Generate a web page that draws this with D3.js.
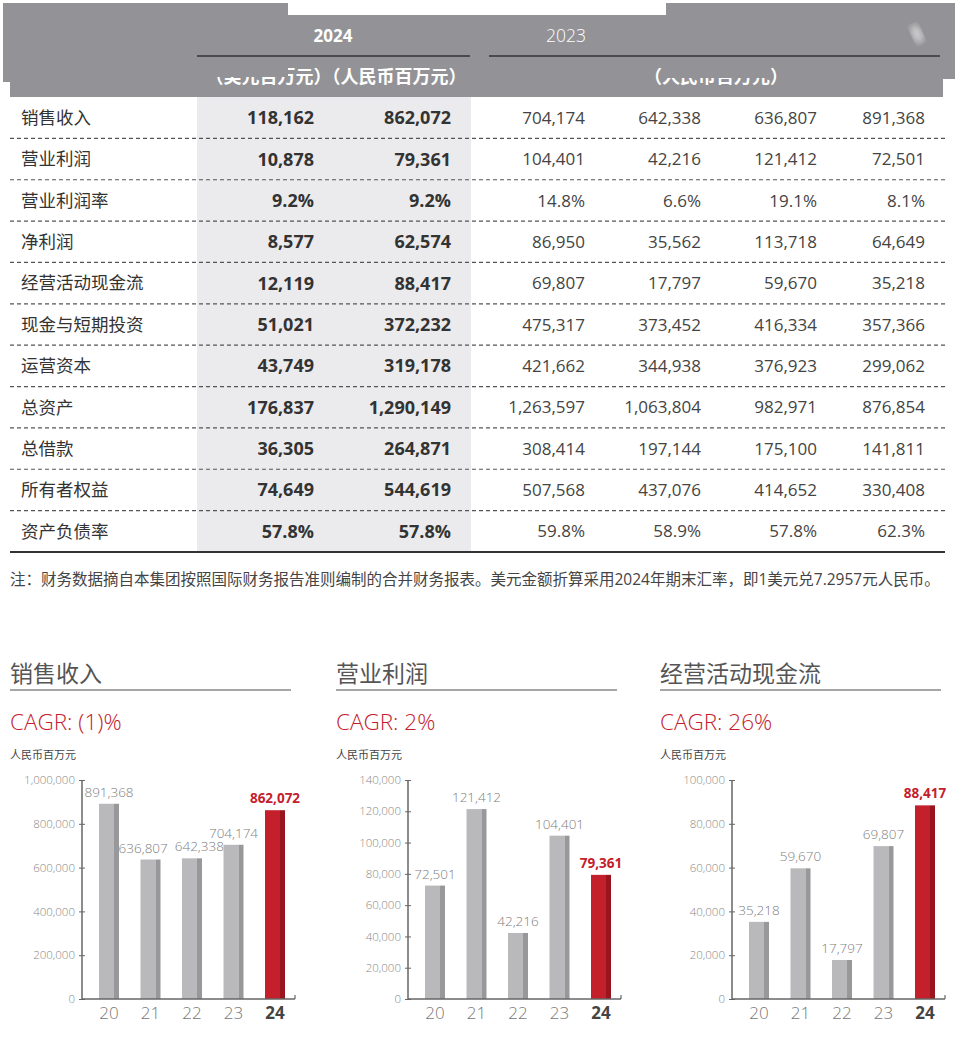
<!DOCTYPE html>
<html lang="zh">
<head>
<meta charset="UTF-8" />
<title>财务摘要</title>
<script src="https://d3js.org/d3.v7.min.js"></script>
<style>
  body { margin: 0; background: #fff; }
  svg { display: block; font-family: "Open Sans", "Noto Sans CJK SC", sans-serif; }
</style>
</head>
<body>
<svg id="chart" width="955" height="1042"></svg>
<script>
// 表格数据
const rowLabels = ["销售收入", "营业利润", "营业利润率", "净利润", "经营活动现金流", "现金与短期投资", "运营资本", "总资产", "总借款", "所有者权益", "资产负债率"];
const usd2024 = ["118,162", "10,878", "9.2%", "8,577", "12,119", "51,021", "43,749", "176,837", "36,305", "74,649", "57.8%"];
const rmb2024 = ["862,072", "79,361", "9.2%", "62,574", "88,417", "372,232", "319,178", "1,290,149", "264,871", "544,619", "57.8%"];
const rmb2023 = ["704,174", "104,401", "14.8%", "86,950", "69,807", "475,317", "421,662", "1,263,597", "308,414", "507,568", "59.8%"];
const rmb2022 = ["642,338", "42,216", "6.6%", "35,562", "17,797", "373,452", "344,938", "1,063,804", "197,144", "437,076", "58.9%"];
const rmb2021 = ["636,807", "121,412", "19.1%", "113,718", "59,670", "416,334", "376,923", "982,971", "175,100", "414,652", "57.8%"];
const rmb2020 = ["891,368", "72,501", "8.1%", "64,649", "35,218", "357,366", "299,062", "876,854", "141,811", "330,408", "62.3%"];
const note = "注：财务数据摘自本集团按照国际财务报告准则编制的合并财务报表。美元金额折算采用2024年期末汇率，即1美元兑7.2957元人民币。";

// 图表数据
const chartYears = ["20", "21", "22", "23", "24"];
const salesValues = [891368, 636807, 642338, 704174, 862072];
const profitValues = [72501, 121412, 42216, 104401, 79361];
const cashValues = [35218, 59670, 17797, 69807, 88417];
const chartTitles = ["销售收入", "营业利润", "经营活动现金流"];
const cagrLabels = ["CAGR: (1)%", "CAGR: 2%", "CAGR: 26%"];
const axisMax = [1000000, 140000, 100000];
const tickStep = [200000, 20000, 20000];

const svg = d3.select("#chart");
const gray = "#939397";
const red = "#c4202b";

const defs = svg.append("defs");
defs.append("filter").attr("id", "blur").append("feGaussianBlur").attr("stdDeviation", 3);

// 表头
svg.append("rect").attr("x", 10).attr("y", 15).attr("width", 933).attr("height", 82).attr("fill", gray);
svg.append("rect").attr("x", 3).attr("y", 3).attr("width", 285).attr("height", 79).attr("fill", gray);
svg.append("text").attr("x", 680).attr("y", 42).attr("fill", "#fff").style("font-size", "17px").text("2022");
svg.append("rect").attr("x", 666).attr("y", 3).attr("width", 289).attr("height", 76).attr("fill", gray);
svg.append("ellipse").attr("cx", 917).attr("cy", 34).attr("rx", 5).attr("ry", 10)
  .attr("fill", "#e4e4e4").attr("opacity", 0.75).attr("filter", "url(#blur)")
  .attr("transform", "rotate(-25 917 34)");

svg.append("text").attr("x", 333).attr("y", 42).attr("text-anchor", "middle").attr("fill", "#fff")
  .style("font-size", "17px").style("font-weight", "bold").text("2024");
svg.append("text").attr("x", 566).attr("y", 42).attr("text-anchor", "middle").attr("fill", "#fff")
  .style("font-size", "17.5px").style("font-weight", 300).text("2023");
svg.append("line").attr("x1", 197).attr("x2", 470).attr("y1", 56).attr("y2", 56).attr("stroke", "#333").attr("stroke-width", 1.5);
svg.append("line").attr("x1", 489).attr("x2", 940).attr("y1", 56).attr("y2", 56).attr("stroke", "#333").attr("stroke-width", 1.5);
svg.append("text").attr("x", 336).attr("y", 83).attr("text-anchor", "middle").attr("fill", "#fff")
  .style("font-size", "18px").style("font-weight", 600).text("（美元百万元）（人民币百万元）");
svg.append("text").attr("x", 716).attr("y", 83).attr("text-anchor", "middle").attr("fill", "#fff")
  .style("font-size", "18px").style("font-weight", 600).text("（人民币百万元）");
// 遮盖块
svg.append("rect").attr("x", 210).attr("y", 62).attr("width", 78).attr("height", 15).attr("fill", gray);
svg.append("rect").attr("x", 663).attr("y", 62).attr("width", 108).attr("height", 16).attr("fill", gray);

// 表格主体
const rowY = d3.scaleBand().domain(rowLabels).range([97, 552]);
svg.append("rect").attr("x", 197).attr("y", 97).attr("width", 274).attr("height", 455).attr("fill", "#ebebed");

const columns = [
  { values: usd2024, x: 314, bold: true },
  { values: rmb2024, x: 451, bold: true },
  { values: rmb2023, x: 585 },
  { values: rmb2022, x: 701 },
  { values: rmb2021, x: 817 },
  { values: rmb2020, x: 925 }
];

const rows = svg.append("g");
rows.selectAll(".sep")
  .data(rowLabels.slice(1))
  .join("line")
  .attr("x1", 10).attr("x2", 945)
  .attr("y1", d => rowY(d)).attr("y2", d => rowY(d))
  .attr("stroke", "#555").attr("stroke-width", 1.2).attr("stroke-dasharray", "4,3");

rows.selectAll(".label")
  .data(rowLabels)
  .join("text")
  .attr("x", 21)
  .attr("y", d => rowY(d) + rowY.bandwidth() / 2)
  .attr("dy", "0.36em")
  .attr("fill", "#333")
  .style("font-size", "17.5px")
  .text(d => d);

columns.forEach(col => {
  rows.append("g").selectAll("text")
    .data(col.values)
    .join("text")
    .attr("x", col.x)
    .attr("y", (d, i) => rowY(rowLabels[i]) + rowY.bandwidth() / 2)
    .attr("dy", "0.36em")
    .attr("text-anchor", "end")
    .attr("fill", col.bold ? "#333" : "#444")
    .style("font-size", col.bold ? "18px" : "17px")
    .style("font-weight", col.bold ? "bold" : "normal")
    .text(d => d);
});

svg.append("line").attr("x1", 10).attr("x2", 945).attr("y1", 552).attr("y2", 552).attr("stroke", "#333").attr("stroke-width", 2);

svg.append("text").attr("x", 10).attr("y", 585).attr("fill", "#444").style("font-size", "15.5px").text(note);

// 三个柱状图
const panelX = [10, 336, 660];
const seriesList = [salesValues, profitValues, cashValues];

seriesList.forEach((values, k) => {
  const px = panelX[k];
  const axisX = px + 72;
  const g = svg.append("g");

  g.append("text").attr("x", px).attr("y", 682).attr("fill", "#555").style("font-size", "23px").text(chartTitles[k]);
  g.append("line").attr("x1", px).attr("x2", px + 281).attr("y1", 690).attr("y2", 690).attr("stroke", "#888").attr("stroke-width", 1.5);
  g.append("text").attr("x", px).attr("y", 730).attr("fill", red).style("font-size", "22.5px").style("font-weight", 300).text(cagrLabels[k]);
  g.append("text").attr("x", px).attr("y", 759).attr("fill", "#444").style("font-size", "11px").text("人民币百万元");

  const x = d3.scalePoint().domain(chartYears).range([axisX + 27, axisX + 193]);
  const y = d3.scaleLinear().domain([0, axisMax[k]]).range([999, 780]);
  const barW = 20, shadeW = 5;

  const yAxis = g.append("g")
    .attr("transform", `translate(${axisX},0)`)
    .call(d3.axisLeft(y)
      .tickValues(d3.range(0, axisMax[k] + 1, tickStep[k]))
      .tickFormat(d3.format(","))
      .tickSize(3)
      .tickPadding(4));
  yAxis.select(".domain").remove();
  yAxis.selectAll("line").attr("stroke", "#666").attr("x2", 3).attr("x1", -3);
  yAxis.selectAll("text").attr("fill", "#888").style("font-size", "11.5px").style("font-family", "'Open Sans', sans-serif").style("font-weight", 300);

  g.append("line").attr("x1", axisX).attr("x2", axisX).attr("y1", y(axisMax[k])).attr("y2", y(0)).attr("stroke", "#666").attr("stroke-width", 1.5);

  const bars = g.append("g").selectAll("g")
    .data(values)
    .join("g");
  bars.append("rect")
    .attr("x", (d, i) => x(chartYears[i]) - barW / 2)
    .attr("y", d => y(d))
    .attr("width", barW - shadeW)
    .attr("height", d => y(0) - y(d))
    .attr("fill", (d, i) => i === 4 ? red : "#b9b9bc");
  bars.append("rect")
    .attr("x", (d, i) => x(chartYears[i]) + barW / 2 - shadeW)
    .attr("y", d => y(d))
    .attr("width", shadeW)
    .attr("height", d => y(0) - y(d))
    .attr("fill", (d, i) => i === 4 ? "#98141f" : "#98989b");
  const labels = bars.append("text")
    .attr("x", (d, i) => x(chartYears[i]))
    .attr("y", d => y(d) - 7)
    .attr("text-anchor", "middle")
    .attr("fill", (d, i) => i === 4 ? red : "#808080")
    .style("font-size", "13.5px")
    .style("font-weight", (d, i) => i === 4 ? "bold" : 300)
    .text(d => d3.format(",")(d));

  // 相邻标签在同一高度重叠时左右推开
  const nodes = labels.nodes();
  for (let i = 1; i < nodes.length; i++) {
    const a = nodes[i - 1].getBBox(), b = nodes[i].getBBox();
    const overlapX = a.x + a.width + 7 - b.x;
    const dyBase = Math.abs(+nodes[i - 1].getAttribute("y") - +nodes[i].getAttribute("y"));
    if (overlapX > 0 && dyBase < 13) {
      d3.select(nodes[i - 1]).attr("x", +nodes[i - 1].getAttribute("x") - overlapX / 2);
      d3.select(nodes[i]).attr("x", +nodes[i].getAttribute("x") + overlapX / 2);
    }
  }

  g.append("line").attr("x1", axisX).attr("x2", axisX + 213).attr("y1", y(0)).attr("y2", y(0)).attr("stroke", "#666").attr("stroke-width", 1.5);
  g.append("line").attr("x1", axisX + 213).attr("x2", axisX + 213).attr("y1", y(0)).attr("y2", y(0) - 4).attr("stroke", "#666").attr("stroke-width", 1.2);

  g.append("g").selectAll("text")
    .data(chartYears)
    .join("text")
    .attr("x", d => x(d))
    .attr("y", 1019)
    .attr("text-anchor", "middle")
    .attr("fill", (d, i) => i === 4 ? "#444" : "#777")
    .style("font-size", "17px")
    .style("font-weight", (d, i) => i === 4 ? "bold" : 300)
    .text(d => d);
});
</script>
</body>
</html>
